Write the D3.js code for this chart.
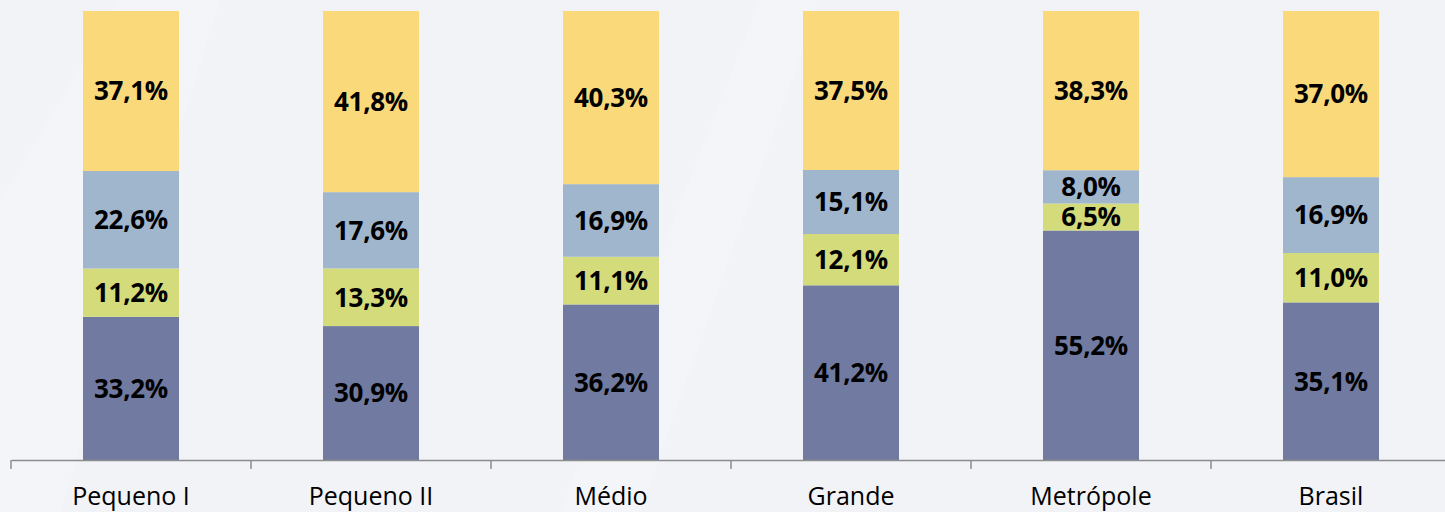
<!DOCTYPE html>
<html>
<head>
<meta charset="utf-8">
<script src="https://cdn.jsdelivr.net/npm/d3@7"></script>
<style>
  html, body { margin: 0; padding: 0; background: #f2f3f7; }
  svg { display: block; }
</style>
</head>
<body>
<div id="chart"></div>
<script>
const categories = ['Pequeno I', 'Pequeno II', 'Médio', 'Grande', 'Metrópole', 'Brasil'];
const seriesKeys = ['s1', 's2', 's3', 's4'];   // bottom -> top
const s1 = [33.2, 30.9, 36.2, 41.2, 55.2, 35.1];
const s2 = [11.2, 13.3, 11.1, 12.1, 6.5, 11.0];
const s3 = [22.6, 17.6, 16.9, 15.1, 8.0, 16.9];
const s4 = [37.1, 41.8, 40.3, 37.5, 38.3, 37.0];
const colors = ['#717ba1', '#d4db7a', '#a0b6cd', '#fad97b'];

const width = 1445, height = 512;
const margin = { top: 11, left: 11, bottom: 52 };
const plotW = 240 * categories.length;

const svg = d3.select('#chart').append('svg')
  .attr('width', width)
  .attr('height', height);

svg.append('rect').attr('width', width).attr('height', height).attr('fill', '#f2f3f7');

// faint diagonal background shapes
svg.append('path').attr('d', 'M0,512 L0,200 L120,0 L220,0 L60,512 Z').attr('fill', '#f4f5f8');
svg.append('path').attr('d', 'M560,512 L760,0 L820,0 L640,512 Z').attr('fill', '#f4f5f8');

const table = categories.map((c, i) => ({ cat: c, s1: s1[i], s2: s2[i], s3: s3[i], s4: s4[i] }));

const stack = d3.stack().keys(seriesKeys).offset(d3.stackOffsetExpand);
const layers = stack(table);

const x = d3.scaleBand()
  .domain(categories)
  .range([margin.left, margin.left + plotW])
  .paddingInner(0.6)
  .paddingOuter(0.3);

const y = d3.scaleLinear()
  .domain([0, 1])
  .range([height - margin.bottom, margin.top]);

const g = svg.append('g');

layers.forEach((layer, li) => {
  g.selectAll('rect.l' + li)
    .data(layer)
    .enter()
    .append('rect')
    .attr('class', 'l' + li)
    .attr('x', d => x(d.data.cat))
    .attr('width', x.bandwidth())
    .attr('y', d => y(d[1]))
    .attr('height', d => y(d[0]) - y(d[1]))
    .attr('fill', colors[li]);

  g.selectAll('text.t' + li)
    .data(layer)
    .enter()
    .append('text')
    .attr('class', 't' + li)
    .attr('x', d => x(d.data.cat) + x.bandwidth() / 2)
    .attr('y', d => (y(d[0]) + y(d[1])) / 2)
    .attr('dy', '0.36em')
    .attr('text-anchor', 'middle')
    .style('font-family', '"Open Sans", sans-serif')
    .style('font-weight', 'bold')
    .style('font-size', '26px')
    .style('letter-spacing', '-0.3px')
    .attr('fill', '#000')
    .text(d => d.data[seriesKeys[li]].toFixed(1).replace('.', ',') + '%');
});

// x axis
const xAxis = d3.axisBottom(x).tickSize(0).tickPadding(27);
const axisG = svg.append('g')
  .attr('transform', 'translate(0,' + (height - margin.bottom) + ')')
  .call(xAxis);
axisG.select('.domain').attr('stroke', '#8c8c8c').attr('stroke-width', 1.5);
axisG.selectAll('text')
  .style('font-family', '"Open Sans", sans-serif')
  .style('font-size', '25px')
  .attr('fill', '#000');

// boundary ticks between categories
const bounds = d3.range(categories.length + 1).map(i => margin.left + i * 240);
axisG.selectAll('line.sep')
  .data(bounds)
  .enter()
  .append('line')
  .attr('class', 'sep')
  .attr('x1', d => d).attr('x2', d => d)
  .attr('y1', 0).attr('y2', 9)
  .attr('stroke', '#8c8c8c')
  .attr('stroke-width', 1.5);
</script>
</body>
</html>
